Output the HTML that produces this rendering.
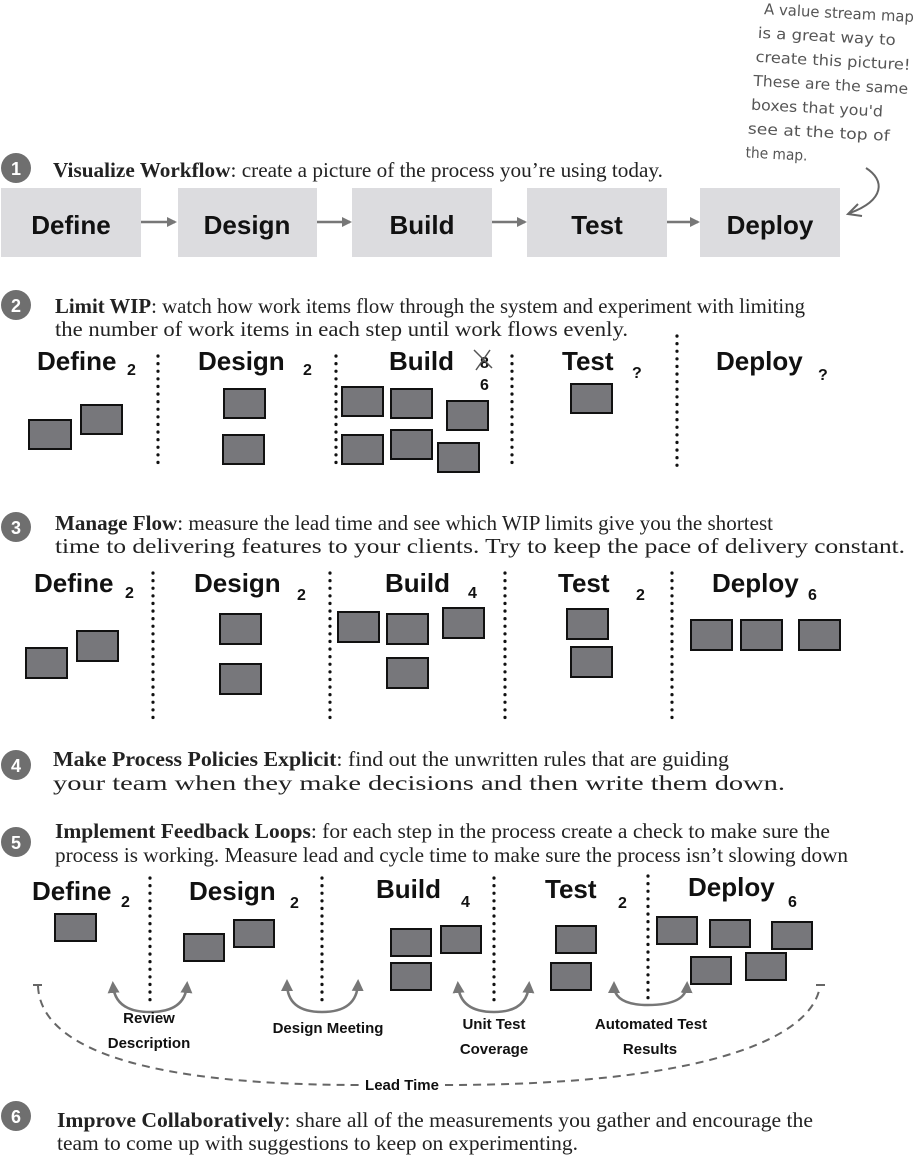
<!DOCTYPE html>
<html><head><meta charset="utf-8"><style>
html,body{margin:0;padding:0;background:#fff;}
svg{display:block;}
.serif{font-family:"Liberation Serif",serif;font-size:21px;fill:#222;}
.hd{font-family:"Liberation Sans",sans-serif;font-weight:bold;font-size:26px;fill:#111;}
.num{font-family:"Liberation Sans",sans-serif;font-weight:bold;font-size:16px;fill:#111;}
.lbl{font-family:"Liberation Sans",sans-serif;font-weight:bold;font-size:15px;fill:#111;}
.note{font-family:"DejaVu Sans",sans-serif;font-size:15px;fill:#555;}
.box{fill:#77777b;stroke:#111;stroke-width:2;}
.gb{fill:#dcdcdf;}
.dot{stroke:#111;stroke-width:3.2;stroke-dasharray:0.1 7.5;stroke-linecap:round;fill:none;}
.cn{font-family:"Liberation Sans",sans-serif;font-weight:bold;font-size:18px;fill:#fff;text-anchor:middle;}
.arc{fill:none;stroke:#777;stroke-width:2.5;}
</style></head><body>
<svg width="913" height="1157" viewBox="0 0 913 1157" xmlns="http://www.w3.org/2000/svg">
<defs>
<marker id="ah" markerWidth="10" markerHeight="10" refX="8" refY="5" orient="auto" markerUnits="userSpaceOnUse"><path d="M0,0 L10,5 L0,10 z" fill="#777"/></marker>
<marker id="ah2" markerWidth="12" markerHeight="12" refX="8" refY="6" orient="auto" markerUnits="userSpaceOnUse"><path d="M0,0 L12,6 L0,12 z" fill="#777"/></marker>
</defs>

<!-- note -->
<g class="note" transform="rotate(3 835 90)">
<text x="760" y="18" textLength="150" lengthAdjust="spacingAndGlyphs">A value stream map</text>
<text x="755" y="42" textLength="138" lengthAdjust="spacingAndGlyphs">is a great way to</text>
<text x="754" y="66" textLength="155" lengthAdjust="spacingAndGlyphs">create this picture!</text>
<text x="753" y="90" textLength="155" lengthAdjust="spacingAndGlyphs">These are the same</text>
<text x="752" y="114" textLength="132" lengthAdjust="spacingAndGlyphs">boxes that you'd</text>
<text x="750" y="138" textLength="142" lengthAdjust="spacingAndGlyphs">see at the top of</text>
<text x="749" y="162" textLength="62" lengthAdjust="spacingAndGlyphs">the map.</text>
</g>
<path d="M866,168 C885,180 885,200 850,213" fill="none" stroke="#666" stroke-width="2"/>
<path d="M858,204 L848,214 L862,216" fill="none" stroke="#666" stroke-width="2"/>

<!-- Section 1 -->
<circle cx="16" cy="168" r="15" fill="#6f6f6f"/><text class="cn" x="16" y="175">1</text>
<text class="serif" x="53" y="177" textLength="610" lengthAdjust="spacingAndGlyphs"><tspan font-weight="bold">Visualize Workflow</tspan>: create a picture of the process you’re using today.</text>
<rect class="gb" x="1" y="188" width="140" height="69"/>
<rect class="gb" x="178" y="188" width="139" height="69"/>
<rect class="gb" x="352" y="188" width="140" height="69"/>
<rect class="gb" x="527" y="188" width="140" height="69"/>
<rect class="gb" x="700" y="188" width="140" height="69"/>
<g class="hd" text-anchor="middle">
<text x="71" y="234">Define</text><text x="247" y="234">Design</text><text x="422" y="234">Build</text><text x="597" y="234">Test</text><text x="770" y="234">Deploy</text>
</g>
<g stroke="#777" stroke-width="2.5" marker-end="url(#ah)">
<line x1="141" y1="222" x2="175" y2="222"/><line x1="317" y1="222" x2="350" y2="222"/><line x1="492" y1="222" x2="525" y2="222"/><line x1="667" y1="222" x2="698" y2="222"/>
</g>

<!-- Section 2 -->
<circle cx="16" cy="305" r="15" fill="#6f6f6f"/><text class="cn" x="16" y="312">2</text>
<text class="serif" x="55" y="313" textLength="750" lengthAdjust="spacingAndGlyphs"><tspan font-weight="bold">Limit WIP</tspan>: watch how work items flow through the system and experiment with limiting</text>
<text class="serif" x="55" y="336" textLength="573" lengthAdjust="spacingAndGlyphs">the number of work items in each step until work flows evenly.</text>
<g class="hd">
<text x="37" y="370">Define</text><text x="198" y="370">Design</text><text x="389" y="370">Build</text><text x="562" y="370">Test</text><text x="716" y="370">Deploy</text>
</g>
<g class="num">
<text x="127" y="375">2</text><text x="303" y="375">2</text><text x="632" y="378">?</text><text x="818" y="380">?</text>
<text x="480" y="368">8</text><text x="480" y="390">6</text>
</g>
<path d="M474,350 L492,368 M490,350 L476,370" stroke="#555" stroke-width="1.5"/>
<g class="dot">
<line x1="158" y1="356" x2="158" y2="470"/><line x1="336" y1="356" x2="336" y2="470"/><line x1="512" y1="356" x2="512" y2="470"/><line x1="677" y1="336" x2="677" y2="470"/>
</g>
<g class="box">
<rect x="29" y="420" width="42" height="29"/><rect x="81" y="405" width="41" height="29"/>
<rect x="224" y="389" width="41" height="29"/><rect x="223" y="435" width="41" height="29"/>
<rect x="342" y="387" width="41" height="29"/><rect x="391" y="389" width="41" height="29"/><rect x="447" y="401" width="41" height="29"/>
<rect x="342" y="435" width="41" height="29"/><rect x="391" y="430" width="41" height="29"/><rect x="438" y="443" width="41" height="29"/>
<rect x="571" y="384" width="41" height="29"/>
</g>

<!-- Section 3 -->
<circle cx="16" cy="527" r="15" fill="#6f6f6f"/><text class="cn" x="16" y="534">3</text>
<text class="serif" x="55" y="530" textLength="718" lengthAdjust="spacingAndGlyphs"><tspan font-weight="bold">Manage Flow</tspan>: measure the lead time and see which WIP limits give you the shortest</text>
<text class="serif" x="55" y="553" textLength="850" lengthAdjust="spacingAndGlyphs">time to delivering features to your clients. Try to keep the pace of delivery constant.</text>
<g class="hd">
<text x="34" y="592">Define</text><text x="194" y="592">Design</text><text x="385" y="592">Build</text><text x="558" y="592">Test</text><text x="712" y="592">Deploy</text>
</g>
<g class="num">
<text x="125" y="598">2</text><text x="297" y="600">2</text><text x="468" y="598">4</text><text x="636" y="600">2</text><text x="808" y="600">6</text>
</g>
<g class="dot">
<line x1="153" y1="573" x2="153" y2="718"/><line x1="330" y1="573" x2="330" y2="718"/><line x1="505" y1="573" x2="505" y2="718"/><line x1="672" y1="573" x2="672" y2="718"/>
</g>
<g class="box">
<rect x="26" y="648" width="41" height="30"/><rect x="77" y="631" width="41" height="30"/>
<rect x="220" y="614" width="41" height="30"/><rect x="220" y="664" width="41" height="30"/>
<rect x="338" y="612" width="41" height="30"/><rect x="387" y="614" width="41" height="30"/><rect x="443" y="608" width="41" height="30"/><rect x="387" y="658" width="41" height="30"/>
<rect x="567" y="609" width="41" height="30"/><rect x="571" y="647" width="41" height="30"/>
<rect x="691" y="620" width="41" height="30"/><rect x="741" y="620" width="41" height="30"/><rect x="799" y="620" width="41" height="30"/>
</g>

<!-- Section 4 -->
<circle cx="16" cy="765" r="15" fill="#6f6f6f"/><text class="cn" x="16" y="772">4</text>
<text class="serif" x="53" y="766" textLength="676" lengthAdjust="spacingAndGlyphs"><tspan font-weight="bold">Make Process Policies Explicit</tspan>: find out the unwritten rules that are guiding</text>
<text class="serif" x="53" y="790" textLength="732" lengthAdjust="spacingAndGlyphs">your team when they make decisions and then write them down.</text>

<!-- Section 5 -->
<circle cx="16" cy="842" r="15" fill="#6f6f6f"/><text class="cn" x="16" y="849">5</text>
<text class="serif" x="55" y="838" textLength="775" lengthAdjust="spacingAndGlyphs"><tspan font-weight="bold">Implement Feedback Loops</tspan>: for each step in the process create a check to make sure the</text>
<text class="serif" x="55" y="862" textLength="793" lengthAdjust="spacingAndGlyphs">process is working. Measure lead and cycle time to make sure the process isn’t slowing down</text>
<g class="hd">
<text x="32" y="900">Define</text><text x="189" y="900">Design</text><text x="376" y="898">Build</text><text x="545" y="898">Test</text><text x="688" y="896">Deploy</text>
</g>
<g class="num">
<text x="121" y="907">2</text><text x="290" y="908">2</text><text x="461" y="907">4</text><text x="618" y="908">2</text><text x="788" y="907">6</text>
</g>
<g class="dot">
<line x1="150" y1="878" x2="150" y2="1005"/><line x1="322" y1="878" x2="322" y2="1005"/><line x1="494" y1="878" x2="494" y2="1005"/><line x1="648" y1="876" x2="648" y2="1000"/>
</g>
<g class="box">
<rect x="55" y="914" width="41" height="27"/>
<rect x="184" y="934" width="40" height="27"/><rect x="234" y="920" width="40" height="27"/>
<rect x="391" y="929" width="40" height="27"/><rect x="441" y="926" width="40" height="27"/><rect x="391" y="963" width="40" height="27"/>
<rect x="556" y="926" width="40" height="27"/><rect x="551" y="963" width="40" height="27"/>
<rect x="657" y="917" width="40" height="27"/><rect x="710" y="920" width="40" height="27"/><rect x="772" y="922" width="40" height="27"/><rect x="691" y="957" width="40" height="27"/><rect x="746" y="953" width="40" height="27"/>
</g>
<g class="arc" marker-end="url(#ah2)">
<path d="M150,1012 Q115,1012 113,985"/>
<path d="M150,1012 Q185,1012 187,985"/>
<path d="M322,1012 Q287,1012 287,983"/>
<path d="M322,1012 Q357,1012 358,983"/>
<path d="M494,1012 Q460,1012 458,985"/>
<path d="M494,1012 Q527,1012 529,985"/>
<path d="M648,1005 Q614,1005 614,985"/>
<path d="M648,1005 Q686,1005 687,985"/>
</g>
<g class="lbl" text-anchor="middle">
<text x="149" y="1023">Review</text><text x="149" y="1048">Description</text>
<text x="328" y="1033">Design Meeting</text>
<text x="494" y="1029">Unit Test</text><text x="494" y="1054">Coverage</text>
<text x="651" y="1029">Automated Test</text><text x="650" y="1054">Results</text>
<text x="402" y="1090">Lead Time</text>
</g>
<path d="M38,986 C40,1040 120,1085 360,1085" fill="none" stroke="#666" stroke-width="2" stroke-dasharray="8 6"/>
<path d="M445,1085 C700,1085 812,1040 820,986" fill="none" stroke="#666" stroke-width="2" stroke-dasharray="8 6"/>
<path d="M33,985 L42,985 M816,985 L825,985" stroke="#666" stroke-width="2"/>

<!-- Section 6 -->
<circle cx="16" cy="1116" r="15" fill="#6f6f6f"/><text class="cn" x="16" y="1123">6</text>
<text class="serif" x="57" y="1127" textLength="756" lengthAdjust="spacingAndGlyphs"><tspan font-weight="bold">Improve Collaboratively</tspan>: share all of the measurements you gather and encourage the</text>
<text class="serif" x="57" y="1150" textLength="521" lengthAdjust="spacingAndGlyphs">team to come up with suggestions to keep on experimenting.</text>
</svg>
</body></html>
